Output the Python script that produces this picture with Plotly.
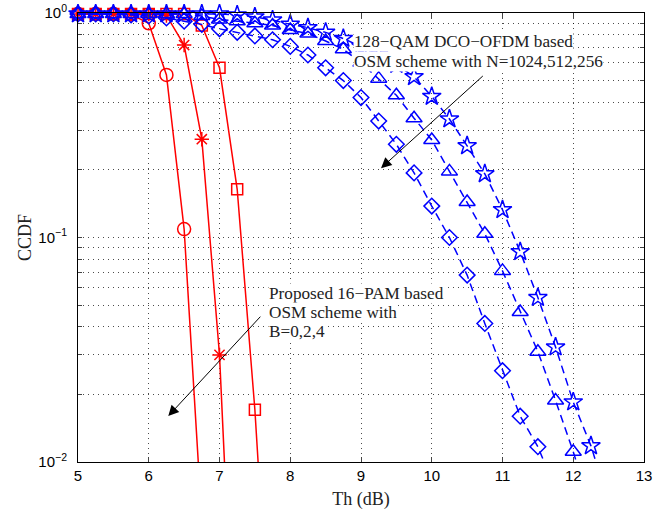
import plotly.graph_objects as go

# ---------------- data ----------------
x_circle = [5.0, 5.25, 5.5, 5.75, 6.0, 6.25, 6.5, 6.75]
y_circle = [0.99, 0.99, 0.99, 0.985, 0.90, 0.53, 0.109, 0.0055]

x_aster = [5.0, 5.25, 5.5, 5.75, 6.0, 6.25, 6.5, 6.75, 7.0, 7.25]
y_aster = [0.99, 0.99, 0.99, 0.99, 0.99, 0.975, 0.72, 0.274, 0.030, 0.0006]

x_square = [5.0, 5.25, 5.5, 5.75, 6.0, 6.25, 6.5, 6.75, 7.0, 7.25, 7.5, 7.75]
y_square = [0.99, 0.99, 0.99, 0.99, 0.99, 0.99, 0.99, 0.88, 0.57, 0.164, 0.0171, 0.0009]

x_diam = [5.0, 5.25, 5.5, 5.75, 6.0, 6.25, 6.5, 6.75, 7.0, 7.25, 7.5, 7.75, 8.0, 8.25,
          8.5, 8.75, 9.0, 9.25, 9.5, 9.75, 10.0, 10.25, 10.5, 10.75, 11.0, 11.25, 11.5, 11.75]
y_diam = [0.99, 0.99, 0.99, 0.98, 0.97, 0.95, 0.92, 0.89, 0.85, 0.82, 0.79, 0.76, 0.71, 0.65,
          0.57, 0.50, 0.42, 0.33, 0.26, 0.194, 0.138, 0.100, 0.068, 0.0414, 0.0255, 0.016, 0.0117, 0.0075]

x_tri = [5.0, 5.25, 5.5, 5.75, 6.0, 6.25, 6.5, 6.75, 7.0, 7.25, 7.5, 7.75, 8.0, 8.25, 8.5,
         8.75, 9.0, 9.25, 9.5, 9.75, 10.0, 10.25, 10.5, 10.75, 11.0, 11.25, 11.5, 11.75, 12.0, 12.25]
y_tri = [0.99, 0.99, 0.99, 0.99, 0.99, 0.99, 0.99, 0.97, 0.935, 0.92, 0.90, 0.88, 0.84, 0.81, 0.75,
         0.69, 0.60, 0.51, 0.43, 0.34, 0.272, 0.197, 0.144, 0.104, 0.071, 0.0466, 0.031, 0.0188, 0.0111, 0.0062]

x_star = [5.0, 5.25, 5.5, 5.75, 6.0, 6.25, 6.5, 6.75, 7.0, 7.25, 7.5, 7.75, 8.0, 8.25, 8.5, 8.75,
          9.0, 9.25, 9.5, 9.75, 10.0, 10.25, 10.5, 10.75, 11.0, 11.25, 11.5, 11.75, 12.0, 12.25, 12.5]
y_star = [0.99, 0.99, 0.99, 0.99, 0.99, 0.99, 0.99, 0.99, 0.99, 0.98, 0.96, 0.93, 0.89, 0.86, 0.82, 0.77,
          0.71, 0.65, 0.59, 0.52, 0.425, 0.337, 0.256, 0.192, 0.133, 0.0864, 0.054, 0.0325, 0.0185, 0.0118, 0.0066]

x_ticks = [5, 6, 7, 8, 9, 10, 11, 12, 13]
y_decades = [0.01, 0.1, 1]
y_decade_labels = ["10<sup>\u22122</sup>", "10<sup>\u22121</sup>", "10<sup>0</sup>"]

text_ofdm_lines = ["128\u2212QAM DCO\u2212OFDM based", "OSM scheme with N=1024,512,256"]
text_pam_lines = ["Proposed 16\u2212PAM based", "OSM scheme with", "B=0,2,4"]

RED = "#ff0000"
BLUE = "#0000ff"
YMIN = 0.01

fig = go.Figure()


def add_curve(x, y, color, symbol, size, dash):
    fig.add_trace(go.Scatter(x=x, y=y, mode="lines",
                             line=dict(color=color, width=1.5, dash=dash),
                             showlegend=False, hoverinfo="skip"))
    xm = [a for a, b in zip(x, y) if b >= YMIN]
    ym = [b for b in y if b >= YMIN]
    fig.add_trace(go.Scatter(x=xm, y=ym, mode="markers", cliponaxis=False,
                             marker=dict(symbol=symbol, size=size, color=color,
                                         line=dict(color=color, width=1.5)),
                             showlegend=False))


add_curve(x_circle, y_circle, RED, "circle-open", 13, "solid")
add_curve(x_aster, y_aster, RED, "asterisk-open", 12, "solid")
add_curve(x_square, y_square, RED, "square-open", 11, "solid")
add_curve(x_diam, y_diam, BLUE, "diamond-open", 12, "8px,5px")
add_curve(x_tri, y_tri, BLUE, "triangle-up-open", 14, "8px,5px")
add_curve(x_star, y_star, BLUE, "star-open", 14, "8px,5px")

# minor log grid positions
y_grid = []
y_grid_text = []
for d, lab in zip(y_decades[:-1], y_decade_labels[:-1]):
    for k in range(1, 10):
        y_grid.append(d * k)
        y_grid_text.append(lab if k == 1 else "")
y_grid.append(y_decades[-1])
y_grid_text.append(y_decade_labels[-1])

serif = "Liberation Serif, Times New Roman, serif"
sans = "Liberation Sans, Arial, sans-serif"

# text blocks, one annotation per line (pixel-matched line spacing)
ofdm_y = [-0.1256, -0.2147]
for t, yy in zip(text_ofdm_lines, ofdm_y):
    fig.add_annotation(x=8.887, y=yy, xref="x", yref="y", text=t, showarrow=False,
                       xanchor="left", yanchor="middle", align="left", bgcolor="white", borderpad=0,
                       font=dict(family=serif, size=17.2, color="#222"))
pam_y = [-1.2508, -1.3354, -1.4200]
for t, yy in zip(text_pam_lines, pam_y):
    fig.add_annotation(x=7.686, y=yy, xref="x", yref="y", text=t, showarrow=False,
                       xanchor="left", yanchor="middle", align="left", bgcolor="white", borderpad=0,
                       font=dict(family=serif, size=17.2, color="#222"))

# arrows
fig.add_annotation(x=9.283, y=-0.691, ax=10.743, ay=-0.2746, xref="x", yref="y",
                   axref="x", ayref="y", text="", showarrow=True, arrowhead=2,
                   arrowsize=2.1, arrowwidth=1, arrowcolor="black", standoff=0)
fig.add_annotation(x=6.276, y=-1.7955, ax=7.597, ay=-1.346, xref="x", yref="y",
                   axref="x", ayref="y", text="", showarrow=True, arrowhead=2,
                   arrowsize=2.1, arrowwidth=1, arrowcolor="black", standoff=0)

grid_col = "rgba(0,0,0,0.7)"
fig.update_layout(
    width=655, height=516,
    margin=dict(l=78, r=11, t=13, b=54, autoexpand=False),
    paper_bgcolor="white", plot_bgcolor="white",
    xaxis=dict(range=[5, 13], tickvals=x_ticks, ticks="inside", ticklen=5,
               showline=True, linecolor="black", linewidth=1, mirror="ticks",
               showgrid=True, gridcolor=grid_col, griddash="1px,4px", gridwidth=1,
               zeroline=False, automargin=False,
               tickfont=dict(family=sans, size=15, color="black"),
               title=dict(text="Th (dB)", font=dict(family=serif, size=18, color="#222"), standoff=9)),
    yaxis=dict(type="log", range=[-2, 0], tickvals=y_grid, ticktext=y_grid_text,
               ticks="inside", ticklen=4, showline=True, linecolor="black", linewidth=1,
               mirror="ticks", showgrid=True, gridcolor=grid_col, griddash="1px,4px", gridwidth=1,
               zeroline=False, automargin=False, ticklabelstandoff=7,
               tickfont=dict(family=sans, size=15, color="black"),
               title=dict(text="CCDF", font=dict(family=serif, size=18, color="#222"), standoff=2)),
)

fig.write_html("out.html")
